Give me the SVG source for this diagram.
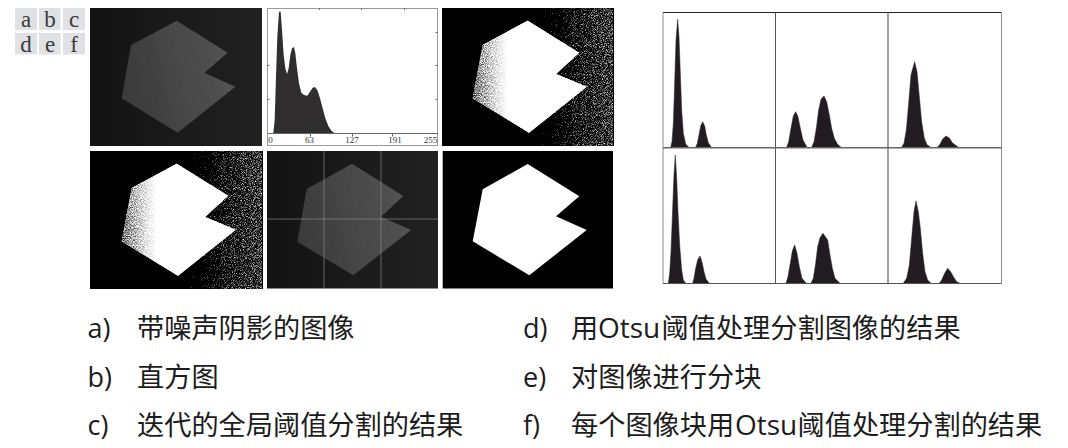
<svg xmlns="http://www.w3.org/2000/svg" xmlns:xlink="http://www.w3.org/1999/xlink" width="1068" height="448" viewBox="0 0 1068 448">
<style>
.cell{fill:#dfe1e4}
.tag{font:23px "Liberation Serif",serif;fill:#3a3a3a;text-anchor:middle}
.tick{font:9px "Liberation Serif",serif;fill:#333;text-anchor:middle}
.cap{font-family:"Open Sans","Noto Sans CJK SC",sans-serif;font-size:27px;fill:#1c1c1c}
.cjk{font-family:"Noto Sans CJK SC",sans-serif;font-size:27.200px;fill:#1c1c1c}
.peak{fill:#231f20;stroke:#231f20;stroke-width:1.500;stroke-linejoin:round}
.latin{font-family:"Open Sans",sans-serif;font-size:28px}
</style>
<defs>
<linearGradient id="bgG" x1="0" x2="1" y1="0" y2="0"><stop offset="0" stop-color="#131313"/><stop offset="1" stop-color="#212121"/></linearGradient>
<linearGradient id="polyG" x1="0" x2="1" y1="0.6" y2="0.4"><stop offset="0" stop-color="#3a3a3a"/><stop offset="1" stop-color="#545454"/></linearGradient>
<linearGradient id="bgNoise" gradientUnits="userSpaceOnUse" x1="442" x2="613" y1="0" y2="0"><stop offset="0.46" stop-color="#000"/><stop offset="0.58" stop-color="#484848"/><stop offset="0.78" stop-color="#808080"/><stop offset="1" stop-color="#989898"/></linearGradient>
<linearGradient id="fgNoise" gradientUnits="userSpaceOnUse" x1="470" x2="515" y1="0" y2="0"><stop offset="0" stop-color="#b0b0b0"/><stop offset="1" stop-color="#d8d8d8"/></linearGradient>
<linearGradient id="fgCover" gradientUnits="userSpaceOnUse" x1="474" x2="508" y1="0" y2="0"><stop offset="0" stop-color="#fff" stop-opacity="0"/><stop offset="1" stop-color="#fff" stop-opacity="1"/></linearGradient>
<filter id="speckle" filterUnits="userSpaceOnUse" x="442" y="8" width="172" height="138" color-interpolation-filters="sRGB">
<feTurbulence type="fractalNoise" baseFrequency="1.100" numOctaves="2" seed="7"/>
<feColorMatrix values="1 0 0 0 0 1 0 0 0 0 1 0 0 0 0 0 0 0 0 1" result="n"/>
<feComposite in="n" in2="SourceGraphic" operator="arithmetic" k1="0" k2="1" k3="1" k4="-1"/>
<feComponentTransfer><feFuncR type="linear" slope="2.400"/><feFuncG type="linear" slope="2.400"/><feFuncB type="linear" slope="2.400"/></feComponentTransfer>
<feColorMatrix values="1 0 0 0 0 0 1 0 0 0 0 0 1 0 0 0 0 0 0 1"/>
<feGaussianBlur stdDeviation="0.400"/>
</filter>
<filter id="soft" x="-5%" y="-5%" width="110%" height="110%"><feGaussianBlur stdDeviation="0.350"/></filter>
<clipPath id="polyC"><polygon points="527.700,20.700 579,52.700 556,74 586.700,86.700 529,132.700 472.700,98.300 482.700,45"/></clipPath>
<g id="thresh">
<rect x="442.500" y="8" width="170.500" height="138" fill="#000"/>
<rect x="442.500" y="8" width="170.500" height="138" fill="url(#bgNoise)" filter="url(#speckle)"/>
<polygon points="527.700,20.700 579,52.700 556,74 586.700,86.700 529,132.700 472.700,98.300 482.700,45" fill="#fff"/>
<g clip-path="url(#polyC)"><rect x="442.500" y="8" width="170.500" height="138" fill="url(#fgNoise)" filter="url(#speckle)"/><rect x="442.500" y="8" width="170.500" height="138" fill="url(#fgCover)"/></g>
</g>
<pattern id="bars" width="3" height="10" patternUnits="userSpaceOnUse"><rect width="3" height="10" fill="#292627"/><rect width="1" height="10" fill="#3c3c3c"/></pattern>
</defs>
<rect width="1068" height="448" fill="#fff"/>

<g id="panel-labels">
<rect class="cell" x="15" y="8" width="22" height="22"/><rect class="cell" x="39" y="8" width="21.500" height="22"/><rect class="cell" x="63" y="8" width="22" height="22"/>
<rect class="cell" x="15" y="33" width="22" height="21.500"/><rect class="cell" x="39" y="33" width="21.500" height="21.500"/><rect class="cell" x="63" y="33" width="22" height="21.500"/>
<text class="tag" x="26" y="27">a</text><text class="tag" x="50" y="27">b</text><text class="tag" x="74" y="27">c</text>
<text class="tag" x="26" y="51.500">d</text><text class="tag" x="50" y="51.500">e</text><text class="tag" x="74" y="51.500">f</text>
</g>

<g id="panel-a">
<rect x="90" y="8" width="172" height="138" fill="url(#bgG)"/>
<polygon points="176.700,20.700 227.700,52.700 204.300,72.700 235.300,86.700 177.700,132.700 121.700,98.300 131,45" fill="url(#polyG)" filter="url(#soft)"/>
</g>

<g id="panel-b">
<rect x="267.500" y="8.500" width="170" height="137" fill="#fff" stroke="#999" stroke-width="1"/>
<polygon transform="translate(260 0) scale(.33333)" fill="url(#bars)" points="40,400 44,360 48,230 52,110 57,35 62,35 66,90 71,165 76,205 81,222 86,205 91,165 96,145 102,141 106,160 111,205 117,250 124,278 132,285 142,287 150,275 158,263 165,261 173,272 180,295 188,325 196,355 205,378 214,392 224,400"/>
<path d="M267.500 133.500H437.500" stroke="#666" fill="none"/>
<path d="M267.500 65.500h2M267.500 99.500h2M435.500 32.500h2M435.500 65.500h2M435.500 99.500h2M319.500 8.500v1.500M361.500 8.500v1.500M404.500 8.500v1.500M310.500 133.500v3M352.500 133.500v3M392.500 133.500v3" stroke="#666" fill="none"/>
<text class="tick" x="270.500" y="143">0</text><text class="tick" x="309.500" y="143">63</text><text class="tick" x="352" y="143">127</text><text class="tick" x="395" y="143">191</text><text class="tick" x="430.500" y="143">255</text>
</g>

<g id="panel-c"><use xlink:href="#thresh" href="#thresh"/></g>

<g id="panel-d">
<rect x="90" y="151" width="4" height="138" fill="#000"/>
<use xlink:href="#thresh" href="#thresh" transform="translate(-351 143)"/>
</g>

<g id="panel-e">
<rect x="267" y="151" width="171" height="137.500" fill="url(#bgG)"/>
<polygon points="352,163.700 403.300,196 381,216.700 411,230 353.300,275.300 297.300,241.700 306.700,189" fill="url(#polyG)" filter="url(#soft)"/>
<path d="M324 151V288.500M381 151V288.500M267 219H438" stroke="#8a8a8a" stroke-opacity=".65" stroke-width="1" fill="none"/>
</g>

<g id="panel-f">
<rect x="442.700" y="151" width="170.300" height="137.500" fill="#000"/>
<polygon points="527.700,164 579.300,196.300 556,216.300 586.700,230 529.300,275.300 472.700,241.300 482.700,189.300" fill="#fff" filter="url(#soft)"/>
</g>

<g id="histograms">
<g transform="translate(650 0) scale(.33333)" filter="url(#soft)">
<polygon class="peak" points="62,442 66,425 70,370 74,250 78,120 83,58 87,110 91,220 95,330 100,400 107,432 116,442"/>
<polygon class="peak" points="137,442 142,430 147,405 152,378 158,365 164,378 169,405 175,428 184,442"/>
<polygon class="peak" points="410,442 416,425 423,385 430,348 437,335 444,350 451,385 459,420 471,442"/>
<polygon class="peak" points="485,442 492,425 499,385 506,330 513,298 522,288 530,305 538,345 545,385 553,415 562,432 573,442"/>
<polygon class="peak" points="755,442 762,430 769,390 776,310 783,225 794,185 801,215 808,290 815,365 823,415 831,434 842,442"/>
<polygon class="peak" points="862,442 870,433 878,417 888,408 898,414 907,428 925,442"/>
</g>
<g transform="translate(650 145) scale(.33333)" filter="url(#soft)">
<polygon class="peak" points="55,415 59,385 63,320 68,190 72,90 76,30 80,100 84,200 89,300 95,375 100,405 107,415"/>
<polygon class="peak" points="128,415 132,400 137,370 143,345 150,333 157,355 162,380 168,402 178,415"/>
<polygon class="peak" points="408,415 414,395 420,360 427,318 434,300 441,325 448,365 456,400 469,415"/>
<polygon class="peak" points="483,415 490,400 497,355 503,305 510,278 519,265 533,285 540,330 547,370 555,400 570,415"/>
<polygon class="peak" points="760,415 770,400 778,360 785,280 792,200 798,168 805,200 811,250 818,325 825,380 833,405 843,415"/>
<polygon class="peak" points="868,415 875,405 884,385 893,370 902,380 912,398 920,410 930,415"/>
</g>
<path d="M663 12.500H1001.500" stroke="#222" fill="none"/>
<path d="M663 12.500V283.500" stroke="#8c8c8c" fill="none"/>
<path d="M775.500 12.500V283.500" stroke="#555" fill="none"/>
<path d="M888 12.500V283.500" stroke="#777" stroke-width="1.400" fill="none"/>
<path d="M1001.500 12.500V283.500" stroke="#8c8c8c" fill="none"/>
<path d="M663 147.800H1001.500" stroke="#666" stroke-width="1.500" fill="none"/>
<path d="M663 283.500H1001.500" stroke="#555" fill="none"/>
</g>

<g id="captions">
<text class="cap" x="87.500" y="338">a)</text><text class="cjk" x="137" y="338">带噪声阴影的图像</text>
<text class="cap" x="87.500" y="387">b)</text><text class="cjk" x="137" y="387">直方图</text>
<text class="cap" x="87.500" y="435">c)</text><text class="cjk" x="137" y="435">迭代的全局阈值分割的结果</text>
<text class="cap" x="523" y="338">d)</text><text class="cjk" x="571" y="338">用<tspan class="latin" x="598">Otsu</tspan><tspan x="661.500">阈值处理分割图像的结果</tspan></text>
<text class="cap" x="523" y="387">e)</text><text class="cjk" x="571" y="387">对图像进行分块</text>
<text class="cap" x="523" y="435">f)</text><text class="cjk" x="571" y="435">每个图像块用<tspan class="latin" x="735">Otsu</tspan><tspan x="797.500">阈值处理分割的结果</tspan></text>
</g>
</svg>
